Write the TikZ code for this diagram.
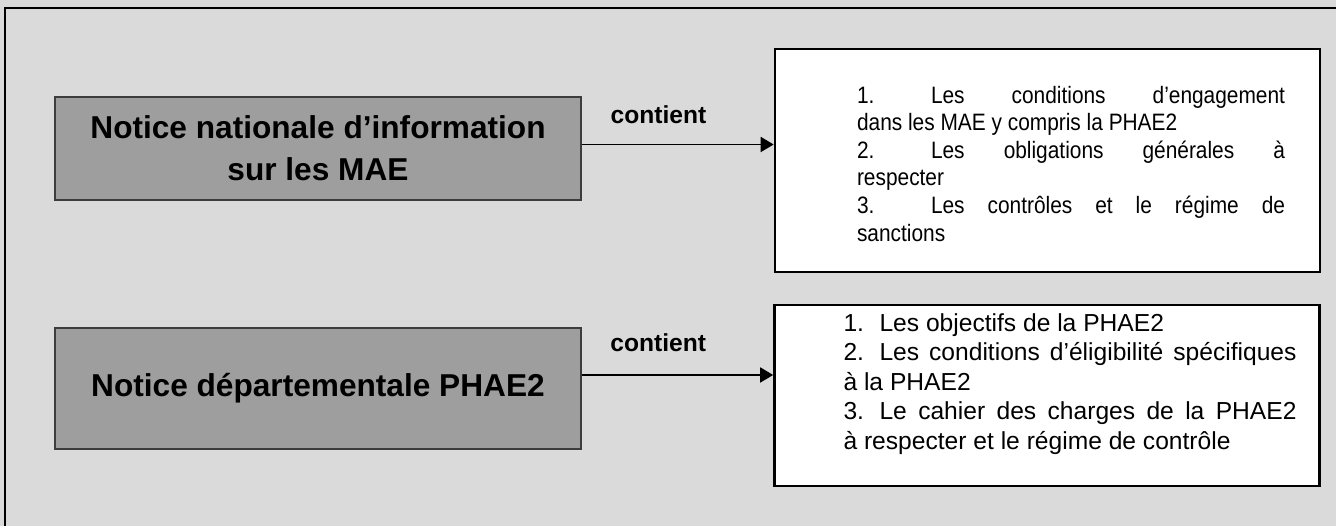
\documentclass[tikz,border=0pt]{standalone}
\usepackage{fontspec}
\setmainfont{Liberation Sans}
\newfontfamily\serre{Liberation Sans}[FakeStretch=0.88, Ligatures=TeX]
\usepackage{tikz}
\usetikzlibrary{arrows.meta,positioning,calc}
\definecolor{fondgris}{RGB}{218,218,218}
\definecolor{boitegris}{RGB}{158,158,158}
\definecolor{traitgris}{RGB}{60,60,60}
\tikzset{
  notice/.style={draw=traitgris, fill=boitegris, line width=0.8pt, minimum width=10.52cm,
                 align=center, font=\fontsize{18}{24}\selectfont\bfseries},
  liste/.style={draw=black, fill=white, line width=1.5pt, minimum width=10.9cm},
  listetxt/.style={anchor=north west, inner sep=0pt, align=justify,
                   execute at begin node={\tolerance=10000}},
  contarr/.style={-{Triangle[length=2.6mm,width=3mm]}, line width=1pt},
  contlbl/.style={font=\fontsize{14}{16}\selectfont\bfseries, inner sep=0pt},
}
% numero d'item avec tabulation fixe
\newcommand{\numtab}[2]{\makebox[#1][l]{#2}}

\begin{document}
\begin{tikzpicture}[x=1cm,y=1cm]
  \useasboundingbox (0,0) rectangle (26.72,10.52);
  \fill[fondgris] (0,0) rectangle (26.72,10.52);
  \draw[line width=1.2pt] (0.1,-0.2) rectangle (26.9,10.36);

  \node[notice, minimum height=2.06cm] (nat) at (6.36,7.55)
    {Notice nationale d'information\\sur les MAE};
  \node[notice, minimum height=2.42cm] (dep) at (6.36,2.75)
    {Notice départementale PHAE2};

  \node[liste, minimum height=4.46cm] (l1) at (20.95,7.31) {};
  \node[liste, minimum height=3.62cm] (l2) at (20.94,2.61) {};

  \node[listetxt, text width=8.56cm, font=\serre\fontsize{13.5}{15.7}\selectfont] (t1)
    at ([xshift=1.66cm,yshift=-0.76cm]l1.north west)
    {\numtab{1.48cm}{1.}Les conditions d'engagement\linebreak dans les MAE y compris la PHAE2\par
     \numtab{1.48cm}{2.}Les obligations générales à\linebreak respecter\par
     \numtab{1.48cm}{3.}Les contrôles et le régime de\linebreak sanctions};
  \node[listetxt, text width=9.06cm, font=\fontsize{14}{16.8}\selectfont] (t2)
    at ([xshift=1.4cm,yshift=-0.19cm]l2.north west)
    {\numtab{0.72cm}{1.}Les objectifs de la PHAE2\par
     \numtab{0.72cm}{2.}Les conditions d'éligibilité spécifiques\linebreak à la PHAE2\par
     \numtab{0.72cm}{3.}Le cahier des charges de la PHAE2\linebreak à respecter et le régime de contrôle};

  \draw[contarr] ([yshift=0.08cm]nat.east) -- ([yshift=0.08cm]nat.east -| l1.west)
    node[contlbl, pos=0.4, above=0.4cm] {contient};
  \draw[contarr] ([yshift=0.27cm]dep.east) -- ([yshift=0.27cm]dep.east -| l2.west)
    node[contlbl, pos=0.4, above=0.45cm] {contient};
\end{tikzpicture}
\end{document}
